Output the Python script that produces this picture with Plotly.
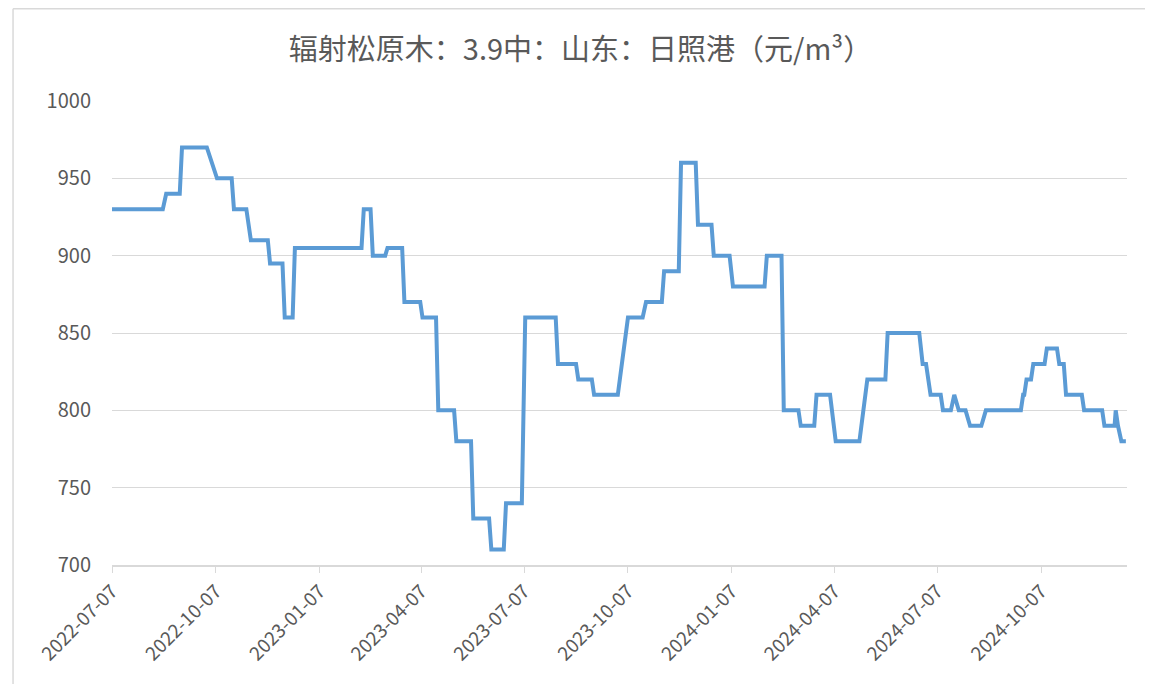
import plotly.graph_objects as go

# data (corner points of the step line)
dates = [
    "2022-07-07", "2022-08-21", "2022-08-24", "2022-09-05", "2022-09-07",
    "2022-09-29", "2022-10-08", "2022-10-21", "2022-10-23", "2022-11-03",
    "2022-11-07", "2022-11-22", "2022-11-24", "2022-12-05", "2022-12-07",
    "2022-12-14", "2022-12-16", "2023-02-13", "2023-02-15", "2023-02-21",
    "2023-02-23", "2023-03-06", "2023-03-08", "2023-03-21", "2023-03-23",
    "2023-04-06", "2023-04-08", "2023-04-20", "2023-04-22", "2023-05-06",
    "2023-05-08", "2023-05-21", "2023-05-23", "2023-06-06", "2023-06-08",
    "2023-06-19", "2023-06-21", "2023-07-05", "2023-07-08", "2023-08-04",
    "2023-08-06", "2023-08-22", "2023-08-24", "2023-09-05", "2023-09-07",
    "2023-09-28", "2023-10-07", "2023-10-20", "2023-10-23", "2023-11-06",
    "2023-11-08", "2023-11-21", "2023-11-23", "2023-12-06", "2023-12-08",
    "2023-12-20", "2023-12-22", "2024-01-05", "2024-01-08", "2024-02-05",
    "2024-02-07", "2024-02-20", "2024-02-22", "2024-03-06", "2024-03-08",
    "2024-03-20", "2024-03-22", "2024-04-03", "2024-04-08", "2024-04-29",
    "2024-05-06", "2024-05-22", "2024-05-24", "2024-06-21", "2024-06-24",
    "2024-06-27", "2024-07-01", "2024-07-10", "2024-07-12", "2024-07-19",
    "2024-07-22", "2024-07-26", "2024-08-01", "2024-08-05", "2024-08-15",
    "2024-08-19", "2024-09-19", "2024-09-21", "2024-09-22", "2024-09-24",
    "2024-09-28", "2024-09-30", "2024-10-10", "2024-10-12", "2024-10-21",
    "2024-10-23", "2024-10-27", "2024-10-29", "2024-11-12", "2024-11-14",
    "2024-11-30", "2024-12-02", "2024-12-11", "2024-12-12", "2024-12-14",
    "2024-12-17", "2024-12-21",
]
prices = [
    930, 930, 940, 940, 970,
    970, 950, 950, 930, 930,
    910, 910, 895, 895, 860,
    860, 905, 905, 930, 930,
    900, 900, 905, 905, 870,
    870, 860, 860, 800, 800,
    780, 780, 730, 730, 710,
    710, 740, 740, 860, 860,
    830, 830, 820, 820, 810,
    810, 860, 860, 870, 870,
    890, 890, 960, 960, 920,
    920, 900, 900, 880, 880,
    900, 900, 800, 800, 790,
    790, 810, 810, 780, 780,
    820, 820, 850, 850, 830,
    830, 810, 810, 800, 800,
    810, 800, 800, 790, 790,
    800, 800, 810, 810, 820,
    820, 830, 830, 840, 840,
    830, 830, 810, 810, 800,
    800, 790, 790, 800, 790,
    780, 780,
]

title_text = "辐射松原木：3.9中：山东：日照港（元/m³）"
x_start = "2022-07-07"
x_end = "2024-12-22"
y_ticks = [700, 750, 800, 850, 900, 950, 1000]

GRID = "#d9d9d9"
TXT = "#595959"
FONT = "Noto Sans CJK SC, Noto Sans, sans-serif"

fig = go.Figure(go.Scatter(
    x=dates, y=prices, mode="lines",
    line=dict(color="#5b9bd5", width=4, shape="linear"),
    hoverinfo="x+y",
))

# the page body adds an 8px offset, so the figure is 8px smaller and margins compensate
fig.update_layout(
    width=1145, height=676,
    margin=dict(l=104, r=26, t=93, b=119),
    paper_bgcolor="white", plot_bgcolor="white",
    showlegend=False,
    font=dict(family=FONT, color=TXT, size=18),
    title=dict(text=title_text, x=0.5, xanchor="center", y=0.9379, yanchor="middle",
               font=dict(size=29, color=TXT, family=FONT)),
)

fig.update_xaxes(
    type="date", range=[x_start, x_end],
    tick0=x_start, dtick="M3", tickformat="%Y-%m-%d", tickangle=-45,
    showgrid=False, showline=True, linecolor=GRID, linewidth=1.5,
    ticks="outside", ticklen=6, tickcolor=GRID, tickwidth=1,
    tickfont=dict(size=19, color=TXT), zeroline=False,
)
fig.update_yaxes(
    range=[700, 1000], tickvals=y_ticks,
    showgrid=True, gridcolor=GRID, gridwidth=1,
    showline=False, zeroline=False, ticks="",
    ticklabelstandoff=20, tickfont=dict(size=20, color=TXT),
)

# thin frame of the chart area (top and left edges visible in the reference)
fig.add_shape(type="line", xref="paper", yref="paper",
              x0=-0.0975, x1=1.05, y0=1.1988, y1=1.1988,
              line=dict(color=GRID, width=1.5))
fig.add_shape(type="line", xref="paper", yref="paper",
              x0=-0.0975, x1=-0.0975, y0=-0.3, y1=1.1988,
              line=dict(color=GRID, width=1.5))

fig.write_html("out.html")
